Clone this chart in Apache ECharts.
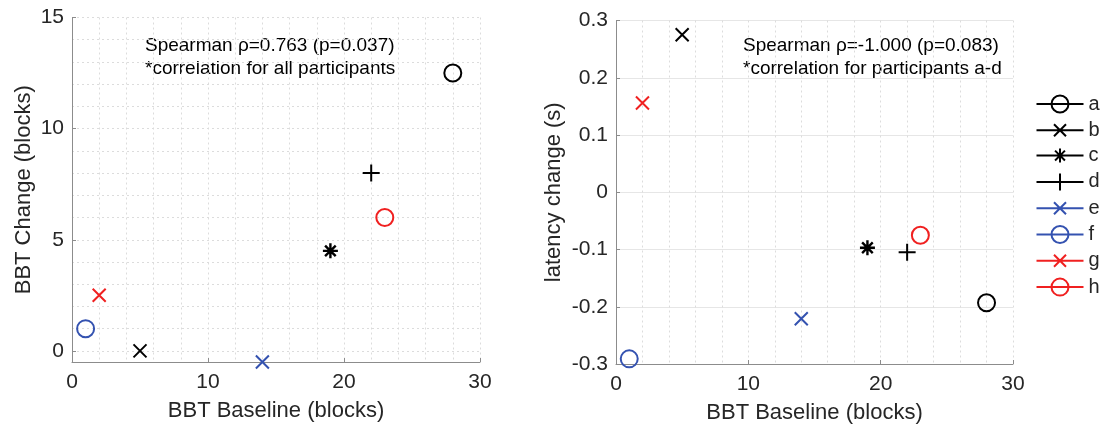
<!DOCTYPE html>
<html>
<head>
<meta charset="utf-8">
<script src="https://cdn.jsdelivr.net/npm/echarts@6/dist/echarts.min.js"></script>
<style>
  html, body { margin: 0; padding: 0; background: #fff; }
  #chart { width: 1102px; height: 430px; }
</style>
</head>
<body>
<div id="chart"></div>
<script>
const names = ["a", "b", "c", "d", "e", "f", "g", "h"];
const bbtBaseline = [28, 5, 19, 22, 14, 1, 2, 23];
const bbtChange = [12.5, 0, 4.5, 8, -0.5, 1, 2.5, 6];
const latencyChange = [-0.193, 0.275, -0.097, -0.105, -0.221, -0.291, 0.156, -0.075];

const markers = ["o", "x", "*", "+", "x", "o", "x", "o"];
const colors = ["#000", "#000", "#000", "#000", "#3452b0", "#3452b0", "#f02020", "#f02020"];

const FONT = "'Liberation Sans', Arial, sans-serif";
const TXT = "#262626";
const AXIS = "#8c8c8c";

// marker paths (stroked, no fill)
const paths = {
  x: "path://M0 0L10 10M10 0L0 10",
  "+": "path://M5 0L5 10M0 5L10 5",
  "*": "path://M5 0L5 10M0 5L10 5M1.46 1.46L8.54 8.54M8.54 1.46L1.46 8.54",
};
const sizes = { o: 17, x: 13, "+": 17, "*": 15 };

// legend icons: line through marker
const legendIcons = {
  o: "path://M0 10L47 10M32 10A8.5 8.5 0 1 1 15 10A8.5 8.5 0 1 1 32 10",
  x: "path://M0 10L47 10M17.5 4L29.5 16M29.5 4L17.5 16",
  "+": "path://M0 10L47 10M23.5 1.5L23.5 18.5",
  "*": "path://M0 10L47 10M23.5 3L23.5 17M16.5 10L30.5 10M18.55 5.05L28.45 14.95M28.45 5.05L18.55 14.95",
};

function makeSeries(yValues, idx) {
  return names.map((n, i) => ({
    name: n,
    type: "scatter",
    xAxisIndex: idx,
    yAxisIndex: idx === 0 ? 0 : 2,
    symbol: markers[i] === "o" ? "circle" : paths[markers[i]],
    symbolSize: sizes[markers[i]],
    itemStyle: {
      color: "rgba(0,0,0,0)",
      borderColor: colors[i],
      borderWidth: markers[i] === "*" ? 2.4 : 2,
      opacity: 1,
    },
    data: [[bbtBaseline[i], yValues[i]]],
  }));
}

const dotted = { color: "#dcdcdc", type: [2, 3], width: 1 };

function xAxis(gridIndex) {
  return {
    type: "value",
    gridIndex: gridIndex,
    min: 0,
    max: 30,
    interval: 10,
    name: "BBT Baseline (blocks)",
    nameLocation: "middle",
    nameGap: 38,
    nameTextStyle: { fontSize: 22, color: TXT, fontFamily: FONT },
    axisLine: { show: true, onZero: false, lineStyle: { color: AXIS } },
    axisTick: { show: true, inside: true, length: 4, lineStyle: { color: AXIS } },
    axisLabel: { fontSize: 21, color: TXT, fontFamily: FONT, margin: 10 },
    splitLine: { show: true, lineStyle: dotted },
    minorTick: { show: false, splitNumber: 5 },
    minorSplitLine: { show: true, lineStyle: dotted },
  };
}

const option = {
  animation: false,
  backgroundColor: "#fff",
  grid: [
    { left: 72, right: 622, top: 17.5, bottom: 68 },
    { left: 616, right: 89, top: 20.5, bottom: 66 },
  ],
  xAxis: [xAxis(0), xAxis(1)],
  yAxis: [
    {
      type: "value",
      gridIndex: 0,
      min: -0.5,
      max: 15,
      splitNumber: 3,
      name: "BBT Change (blocks)",
      nameLocation: "middle",
      nameGap: 37,
      nameTextStyle: { fontSize: 22, color: TXT, fontFamily: FONT },
      axisLine: { show: true, onZero: false, lineStyle: { color: AXIS } },
      axisTick: { show: true, inside: true, length: 4, lineStyle: { color: AXIS } },
      axisLabel: { fontSize: 21, color: TXT, fontFamily: FONT, margin: 8, showMinLabel: false },
      splitLine: { show: false },
    },
    {
      type: "value",
      gridIndex: 0,
      min: -0.5,
      max: 15,
      splitNumber: 15,
      axisLine: { show: false },
      axisTick: { show: false },
      axisLabel: { show: false },
      splitLine: { show: true, lineStyle: dotted },
    },
    {
      type: "value",
      gridIndex: 1,
      min: -0.3,
      max: 0.3,
      interval: 0.1,
      name: "latency change (s)",
      nameLocation: "middle",
      nameGap: 51,
      nameTextStyle: { fontSize: 22, color: TXT, fontFamily: FONT },
      axisLine: { show: true, onZero: false, lineStyle: { color: AXIS } },
      axisTick: { show: true, inside: true, length: 4, lineStyle: { color: AXIS } },
      axisLabel: { fontSize: 21, color: TXT, fontFamily: FONT, margin: 8 },
      splitLine: { show: true, lineStyle: { color: "#e6e6e6", width: 1 } },
    },
  ],
  legend: {
    orient: "vertical",
    left: 1034,
    top: 93,
    padding: 0,
    itemWidth: 47,
    itemHeight: 20,
    itemGap: 5.3,
    selectedMode: false,
    textStyle: { fontSize: 20, color: TXT, fontFamily: FONT },
    data: names.map((n, i) => ({
      name: n,
      icon: legendIcons[markers[i]],
      itemStyle: { color: "none", borderColor: colors[i], borderWidth: 2 },
    })),
  },
  graphic: [
    {
      type: "text",
      left: 145,
      top: 34,
      style: {
        text: "Spearman ρ=0.763 (p=0.037)\n*correlation for all participants",
        font: "19px " + FONT,
        lineHeight: 23,
        fill: "#000",
      },
    },
    {
      type: "text",
      left: 743,
      top: 34,
      style: {
        text: "Spearman ρ=-1.000 (p=0.083)\n*correlation for participants a-d",
        font: "19px " + FONT,
        lineHeight: 23,
        fill: "#000",
      },
    },
  ],
  series: [...makeSeries(bbtChange, 0), ...makeSeries(latencyChange, 1)],
};

const myChart = echarts.init(document.getElementById("chart"));
myChart.setOption(option);
</script>
</body>
</html>
